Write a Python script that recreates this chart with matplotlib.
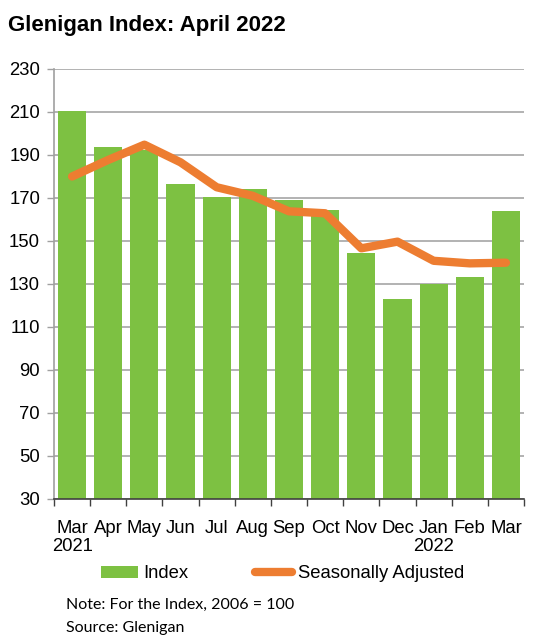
import matplotlib
matplotlib.use("Agg")
import matplotlib.pyplot as plt
import numpy as np
from matplotlib.patches import Patch
from matplotlib.lines import Line2D

months = ["Mar\n2021", "Apr", "May", "Jun", "Jul", "Aug", "Sep", "Oct",
          "Nov", "Dec", "Jan\n2022", "Feb", "Mar"]
index_vals = [210.5, 193.7, 192.5, 176.5, 170.6, 174.2, 169.1, 164.4,
              144.4, 123.0, 130.0, 133.3, 164.0]
seasonal_vals = [180.0, 187.7, 194.8, 186.6, 175.0, 171.0, 163.8, 162.9,
                 146.6, 149.7, 140.8, 139.6, 139.9]
yticks = [30, 50, 70, 90, 110, 130, 150, 170, 190, 210, 230]

GREEN = "#7DC142"
ORANGE = "#ED7D31"
FONT = ["Liberation Sans", "DejaVu Sans"]

W, H = 553, 639
fig = plt.figure(figsize=(W / 100, H / 100), dpi=100)
ax = fig.add_axes([54 / W, 1 - 499 / H, (524 - 54) / W, (499 - 69) / H])

x = np.arange(len(months))
ax.bar(x, [v - 30 for v in index_vals], bottom=30, width=0.78, color=GREEN, zorder=2)
ax.plot(x, seasonal_vals, color=ORANGE, lw=6, solid_capstyle="round",
        solid_joinstyle="round", zorder=3)

ax.set_xlim(-0.5, len(months) - 0.5)
ax.set_ylim(30, 230)
ax.set_yticks(yticks)
ax.set_yticklabels([str(v) for v in yticks], fontfamily=FONT, fontsize=13.3)
ax.yaxis.grid(True, color="#A6A6A6", lw=1.2, zorder=0)
ax.set_axisbelow(True)

ax.set_xticks(np.arange(-0.5, len(months), 1.0))
ax.set_xticklabels([])
ax.set_xticks(x, minor=True)
ax.set_xticklabels(months, minor=True, fontfamily=FONT, fontsize=13.3,
                   linespacing=1.1)
ax.tick_params(axis="x", which="minor", length=0, pad=15)
ax.tick_params(axis="x", which="major", length=5, width=1, color="#404040")
ax.tick_params(axis="y", length=5, width=1, color="#A0A0A0", pad=5)

for s in ["top", "right"]:
    ax.spines[s].set_visible(False)
ax.spines["left"].set_color("#A0A0A0")
ax.spines["left"].set_linewidth(1.2)
ax.spines["bottom"].set_color("#404040")
ax.spines["bottom"].set_linewidth(1.2)

fig.text(8 / W, 1 - 25 / H, "Glenigan Index: April 2022", fontfamily=FONT,
         fontsize=16, fontweight="bold", va="center", ha="left")

handles = [Patch(facecolor=GREEN, edgecolor="none"),
           Line2D([0], [0], color=ORANGE, lw=6, solid_capstyle="round")]
leg = fig.legend(handles, ["Index", "Seasonally Adjusted"], ncol=2,
                 loc="center left", bbox_to_anchor=(92 / W, 1 - 574 / H),
                 frameon=False, prop={"family": FONT, "size": 13.3},
                 handlelength=2.0, handleheight=0.55, handletextpad=0.3,
                 columnspacing=3.6, borderpad=0.0)

fig.text(66 / W, 1 - 605 / H, "Note: For the Index, 2006 = 100",
         fontfamily="Lato", fontsize=11.5, va="center", ha="left")
fig.text(66 / W, 1 - 628 / H, "Source: Glenigan",
         fontfamily="Lato", fontsize=11.5, va="center", ha="left")

fig.savefig("out.png", dpi=100)
